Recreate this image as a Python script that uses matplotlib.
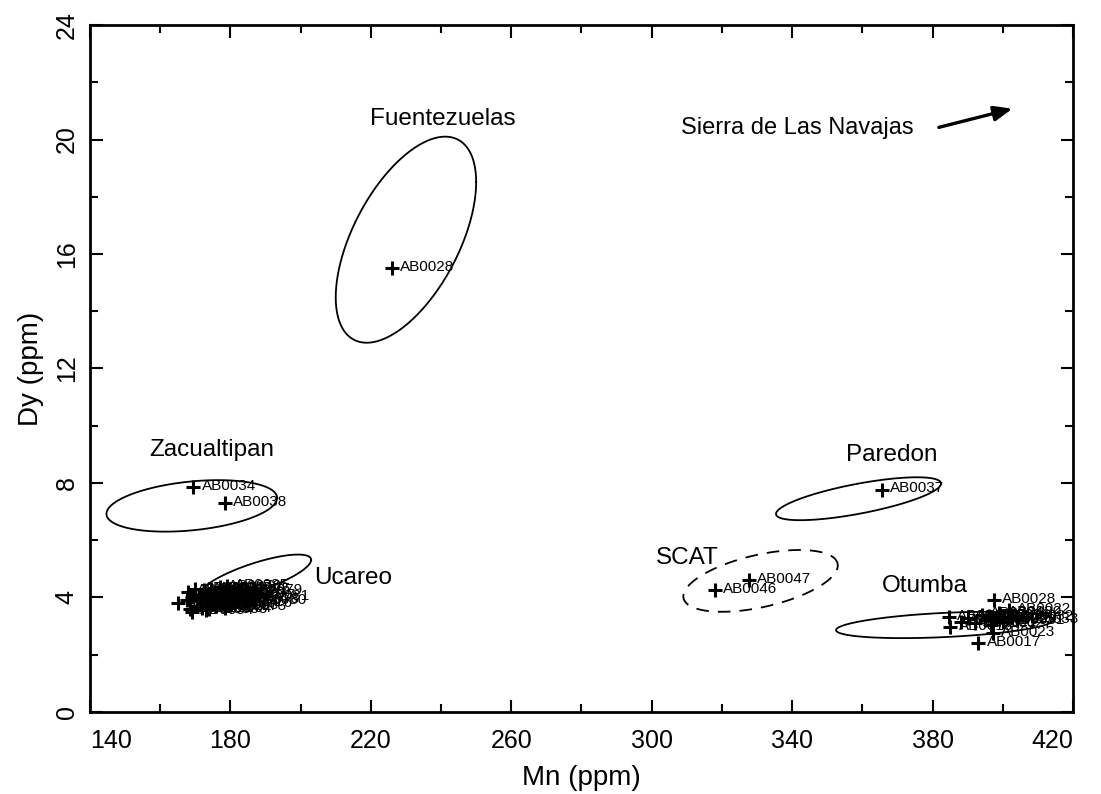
import numpy as np
import matplotlib.pyplot as plt
from matplotlib.ticker import MultipleLocator

plt.rcParams['font.family'] = ['Liberation Sans', 'DejaVu Sans']

# group ellipses: centre, half range in x, half range in y, phase (deg)
groups = ['Fuentezuelas', 'Zacualtipan', 'Ucareo', 'Paredon', 'SCAT', 'Otumba']
ell_cx = [230.0, 169.0, 187.0, 358.9, 331.0, 383.5]
ell_cy = [16.5, 7.2, 4.7, 7.45, 4.58, 3.04]
ell_rx = [20.0, 24.3, 16.0, 23.5, 22.0, 31.0]
ell_ry = [3.6, 0.9, 0.8, 0.75, 1.08, 0.46]
ell_phase = [56, 72, 40, 45, 60, 67]
ell_style = ['-', '-', '-', '-', (0, (7, 5)), '-']

# group name positions
name_x = [240.4, 174.8, 215.0, 368.4, 310.0, 377.8]
name_y = [20.7, 9.15, 4.68, 8.98, 5.38, 4.4]

# labelled samples
lab_mn = [226.0, 169.4, 178.5, 365.5, 318.0, 327.6,
          397.5, 401.7, 397.2, 393.0]
lab_dy = [15.5, 7.86, 7.3, 7.76, 4.26, 4.6,
          3.91, 3.56, 2.76, 2.41]
lab_id = ['AB0028', 'AB0034', 'AB0038', 'AB0037', 'AB0046', 'AB0047',
          'AB0028', 'AB0022', 'AB0023', 'AB0017']

# Otumba cluster
otu_mn = [384.6, 385.0, 388.0, 390.0, 392.0, 394.0, 395.0, 396.0,
          396.5, 398.0, 399.0, 400.0, 402.5, 404.0]
otu_dy = [3.32, 2.97, 3.15, 3.3, 3.1, 3.4, 3.2, 3.35,
          3.05, 3.25, 3.45, 3.15, 3.3, 3.2]
otu_id = ['AB0015', 'AB0018', 'AB0019', 'AB0020', 'AB0021', 'AB0024', 'AB0025',
          'AB0026', 'AB0027', 'AB0029', 'AB0030', 'AB0031', 'AB0032', 'AB0033']

# Ucareo cluster
uca_mn = [165.0, 167.5, 168.0, 168.5, 169.0, 169.0, 170.0, 170.5, 171.0, 171.5,
          172.0, 172.5, 173.0, 173.5, 174.0, 174.5, 175.0, 175.5, 176.0, 176.5,
          177.0, 177.5, 178.0, 178.5, 179.0, 179.5, 180.0, 181.0, 182.0, 183.0,
          184.0, 185.0, 170.0, 173.0, 176.0, 179.0]
uca_dy = [3.8, 3.9, 4.2, 3.6, 3.5, 4.0, 4.3, 3.7, 3.95, 4.1,
          3.65, 4.25, 3.85, 4.05, 3.6, 4.3, 3.9, 4.15, 3.7, 4.0,
          4.35, 3.8, 4.1, 3.65, 3.95, 4.25, 3.75, 4.05, 3.9, 4.2,
          3.85, 4.0, 4.1, 3.55, 3.8, 4.4]
uca_id = ['AB0%03d' % n for n in [50, 51, 52, 53, 54, 55, 56, 57, 58, 59,
                                   60, 61, 62, 63, 64, 65, 66, 67, 68, 69,
                                   70, 71, 72, 73, 74, 75, 76, 77, 78, 79,
                                   80, 81, 82, 83, 84, 85]]

x_ticks = [140, 180, 220, 260, 300, 340, 380, 420]
y_ticks = [0, 4, 8, 12, 16, 20, 24]

fig = plt.figure(figsize=(11.01, 7.94), dpi=100)
ax = fig.add_axes([0.0817, 0.1033, 0.8929, 0.8652])

t = np.linspace(0, 2 * np.pi, 300)
for i in range(len(groups)):
    ph = np.radians(ell_phase[i])
    ex = ell_cx[i] + ell_rx[i] * np.cos(t)
    ey = ell_cy[i] + ell_ry[i] * np.cos(t - ph)
    ax.plot(ex, ey, color='black', lw=1.3, linestyle=ell_style[i])
    ax.text(name_x[i], name_y[i], groups[i], fontsize=17.5, ha='center', va='center')

all_mn = uca_mn + otu_mn + lab_mn
all_dy = uca_dy + otu_dy + lab_dy
all_id = uca_id + otu_id + lab_id
ax.plot(all_mn, all_dy, '+', color='black', ms=10, mew=2.2, ls='none')
for x, y, s in zip(all_mn, all_dy, all_id):
    ax.annotate(s, (x, y), xytext=(6, 1), textcoords='offset points',
                fontsize=11, va='center', ha='left', annotation_clip=False)

ax.annotate('', xy=(403.5, 21.1), xytext=(381.0, 20.4),
            arrowprops=dict(arrowstyle='-|>,head_length=1.1,head_width=0.45',
                            color='black', lw=2.4))
ax.text(374.5, 20.4, 'Sierra de Las Navajas', fontsize=17, ha='right', va='center')

ax.set_xlim(140, 420)
ax.set_ylim(0, 24)
ax.set_xticks(x_ticks)
ax.set_yticks(y_ticks)
ax.xaxis.set_minor_locator(MultipleLocator(20))
ax.yaxis.set_minor_locator(MultipleLocator(2))
ax.tick_params(which='both', direction='in', top=True, right=True, width=1.5)
ax.tick_params(which='major', length=9)
ax.tick_params(which='minor', length=6)
ax.tick_params(axis='x', pad=12)
ax.tick_params(axis='y', pad=8, labelrotation=90)
xl = ax.set_xticklabels([str(v) for v in x_ticks], fontsize=18)
yl = ax.set_yticklabels([str(v) for v in y_ticks], fontsize=18, va='center')
xl[0].set_ha('left')
xl[-1].set_ha('right')
for sp in ax.spines.values():
    sp.set_linewidth(2)

ax.set_xlabel('Mn (ppm)', fontsize=20, labelpad=9)
ax.set_ylabel('Dy (ppm)', fontsize=20, labelpad=8)

fig.savefig('out.png', dpi=100)
